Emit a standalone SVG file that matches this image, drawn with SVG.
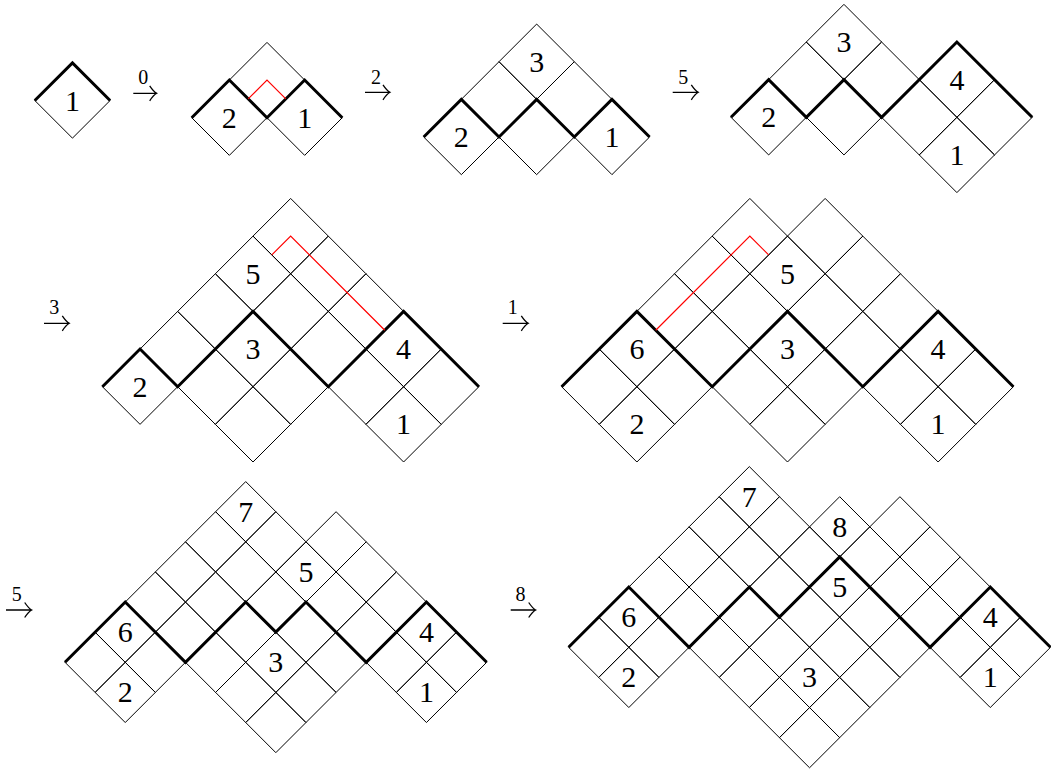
<svg xmlns="http://www.w3.org/2000/svg" width="1051" height="771" viewBox="0 0 1051 771">
<style>
.g{fill:none;stroke:#000;stroke-width:1;vector-effect:non-scaling-stroke}
.t{fill:none;stroke:#000;stroke-width:3;stroke-linejoin:miter;vector-effect:non-scaling-stroke}
.r{fill:none;stroke:#f00;stroke-width:1.2;vector-effect:non-scaling-stroke}
text{font-family:'Liberation Serif','DejaVu Serif','Times New Roman',serif;text-anchor:middle;fill:#000}
.n{font-size:30px}
.s{font-size:20px}
.a{fill:none;stroke:#000;stroke-width:1.3}
</style>
<rect width="1051" height="771" fill="#fff"/>
<g id="p1">
<g transform="matrix(37.65 0 0 -37.65 34.8 100.5)">
<path class="g" d="M0 0l1 1 1-1-1-1z"/>
<path class="t" d="M0 0L1 1L2 0"/>
</g>
<text class="n" x="72.45" y="110.5">1</text>
</g>
<g id="p2">
<g transform="matrix(37.65 0 0 -37.65 191.7 117.7)">
<path class="g" d="M0 0l1 1 1-1-1-1zM2 0l1 1 1-1-1-1zM1 1l1 1 1-1-1-1z"/>
<path class="t" d="M0 0L1 1L2 0L3 1L4 0"/>
<path class="r" d="M1.5 0.5L2 1L2.5 0.5"/>
</g>
<text class="n" x="229.35" y="127.7">2</text>
<text class="n" x="304.65" y="127.7">1</text>
</g>
<g id="p3">
<g transform="matrix(37.65 0 0 -37.65 423.7 137)">
<path class="g" d="M0 0l1 1 1-1-1-1zM2 0l1 1 1-1-1-1zM4 0l1 1 1-1-1-1zM1 1l1 1 1-1-1-1zM3 1l1 1 1-1-1-1zM2 2l1 1 1-1-1-1z"/>
<path class="t" d="M0 0L1 1L2 0L3 1L4 0L5 1L6 0"/>
</g>
<text class="n" x="461.35" y="147">2</text>
<text class="n" x="611.95" y="147">1</text>
<text class="n" x="536.65" y="71.7">3</text>
</g>
<g id="p4">
<g transform="matrix(37.65 0 0 -37.65 731 117.3)">
<path class="g" d="M0 0l1 1 1-1-1-1zM2 0l1 1 1-1-1-1zM5 1l1 1 1-1-1-1zM4 0l1 1 1-1-1-1zM6 0l1 1 1-1-1-1zM5 -1l1 1 1-1-1-1zM1 1l1 1 1-1-1-1zM3 1l1 1 1-1-1-1zM2 2l1 1 1-1-1-1z"/>
<path class="t" d="M0 0L1 1L2 0L3 1L4 0L6 2L8 0"/>
</g>
<text class="n" x="768.65" y="127.3">2</text>
<text class="n" x="843.95" y="52">3</text>
<text class="n" x="956.9" y="89.65">4</text>
<text class="n" x="956.9" y="164.95">1</text>
</g>
<g id="p5">
<g transform="matrix(37.65 0 0 -37.65 102.4 386.7)">
<path class="g" d="M0 0l1 1 1-1-1-1zM3 1l1 1 1-1-1-1zM2 0l1 1 1-1-1-1zM4 0l1 1 1-1-1-1zM3 -1l1 1 1-1-1-1zM7 1l1 1 1-1-1-1zM6 0l1 1 1-1-1-1zM8 0l1 1 1-1-1-1zM7 -1l1 1 1-1-1-1zM1 1l1 1 1-1-1-1zM5 1l1 1 1-1-1-1zM2 2l1 1 1-1-1-1zM4 2l1 1 1-1-1-1zM6 2l1 1 1-1-1-1zM3 3l1 1 1-1-1-1zM5 3l1 1 1-1-1-1zM4 4l1 1 1-1-1-1z"/>
<path class="t" d="M0 0L1 1L2 0L4 2L6 0L8 2L10 0"/>
<path class="r" d="M4.5 3.5L5 4L7.5 1.5"/>
</g>
<text class="n" x="140.05" y="396.7">2</text>
<text class="n" x="253" y="359.05">3</text>
<text class="n" x="403.6" y="359.05">4</text>
<text class="n" x="403.6" y="434.35">1</text>
<text class="n" x="253" y="283.75">5</text>
</g>
<g id="p6">
<g transform="matrix(37.65 0 0 -37.65 561.6 386.7)">
<path class="g" d="M1 1l1 1 1-1-1-1zM0 0l1 1 1-1-1-1zM2 0l1 1 1-1-1-1zM1 -1l1 1 1-1-1-1zM5 1l1 1 1-1-1-1zM4 0l1 1 1-1-1-1zM6 0l1 1 1-1-1-1zM5 -1l1 1 1-1-1-1zM9 1l1 1 1-1-1-1zM8 0l1 1 1-1-1-1zM10 0l1 1 1-1-1-1zM9 -1l1 1 1-1-1-1zM3 1l1 1 1-1-1-1zM7 1l1 1 1-1-1-1zM2 2l1 1 1-1-1-1zM4 2l1 1 1-1-1-1zM6 2l1 1 1-1-1-1zM8 2l1 1 1-1-1-1zM3 3l1 1 1-1-1-1zM5 3l1 1 1-1-1-1zM7 3l1 1 1-1-1-1zM4 4l1 1 1-1-1-1zM6 4l1 1 1-1-1-1z"/>
<path class="t" d="M0 0L2 2L4 0L6 2L8 0L10 2L12 0"/>
<path class="r" d="M2.5 1.5L5 4L5.5 3.5"/>
</g>
<text class="n" x="636.9" y="359.05">6</text>
<text class="n" x="636.9" y="434.35">2</text>
<text class="n" x="787.5" y="359.05">3</text>
<text class="n" x="938.1" y="359.05">4</text>
<text class="n" x="938.1" y="434.35">1</text>
<text class="n" x="787.5" y="283.75">5</text>
</g>
<g id="p7">
<g transform="matrix(30.12 0 0 -30.12 65 662.3)">
<path class="g" d="M1 1l1 1 1-1-1-1zM0 0l1 1 1-1-1-1zM2 0l1 1 1-1-1-1zM1 -1l1 1 1-1-1-1zM5 1l1 1 1-1-1-1zM7 1l1 1 1-1-1-1zM4 0l1 1 1-1-1-1zM6 0l1 1 1-1-1-1zM8 0l1 1 1-1-1-1zM5 -1l1 1 1-1-1-1zM7 -1l1 1 1-1-1-1zM6 -2l1 1 1-1-1-1zM11 1l1 1 1-1-1-1zM10 0l1 1 1-1-1-1zM12 0l1 1 1-1-1-1zM11 -1l1 1 1-1-1-1zM3 1l1 1 1-1-1-1zM9 1l1 1 1-1-1-1zM2 2l1 1 1-1-1-1zM4 2l1 1 1-1-1-1zM6 2l1 1 1-1-1-1zM8 2l1 1 1-1-1-1zM10 2l1 1 1-1-1-1zM3 3l1 1 1-1-1-1zM5 3l1 1 1-1-1-1zM7 3l1 1 1-1-1-1zM9 3l1 1 1-1-1-1zM4 4l1 1 1-1-1-1zM6 4l1 1 1-1-1-1zM8 4l1 1 1-1-1-1zM5 5l1 1 1-1-1-1z"/>
<path class="t" d="M0 0L2 2L4 0L6 2L7 1L8 2L10 0L12 2L14 0"/>
</g>
<text class="n" x="125.24" y="642.18">6</text>
<text class="n" x="125.24" y="702.42">2</text>
<text class="n" x="275.84" y="672.3">3</text>
<text class="n" x="426.44" y="642.18">4</text>
<text class="n" x="426.44" y="702.42">1</text>
<text class="n" x="305.96" y="581.94">5</text>
<text class="n" x="245.72" y="521.7">7</text>
</g>
<g id="p8">
<g transform="matrix(30.12 0 0 -30.12 568.6 647.3)">
<path class="g" d="M1 1l1 1 1-1-1-1zM0 0l1 1 1-1-1-1zM2 0l1 1 1-1-1-1zM1 -1l1 1 1-1-1-1zM8 2l1 1 1-1-1-1zM5 1l1 1 1-1-1-1zM7 1l1 1 1-1-1-1zM9 1l1 1 1-1-1-1zM4 0l1 1 1-1-1-1zM6 0l1 1 1-1-1-1zM8 0l1 1 1-1-1-1zM10 0l1 1 1-1-1-1zM5 -1l1 1 1-1-1-1zM7 -1l1 1 1-1-1-1zM9 -1l1 1 1-1-1-1zM6 -2l1 1 1-1-1-1zM8 -2l1 1 1-1-1-1zM7 -3l1 1 1-1-1-1zM13 1l1 1 1-1-1-1zM12 0l1 1 1-1-1-1zM14 0l1 1 1-1-1-1zM13 -1l1 1 1-1-1-1zM3 1l1 1 1-1-1-1zM11 1l1 1 1-1-1-1zM2 2l1 1 1-1-1-1zM4 2l1 1 1-1-1-1zM6 2l1 1 1-1-1-1zM10 2l1 1 1-1-1-1zM12 2l1 1 1-1-1-1zM3 3l1 1 1-1-1-1zM5 3l1 1 1-1-1-1zM7 3l1 1 1-1-1-1zM9 3l1 1 1-1-1-1zM11 3l1 1 1-1-1-1zM4 4l1 1 1-1-1-1zM6 4l1 1 1-1-1-1zM8 4l1 1 1-1-1-1zM10 4l1 1 1-1-1-1zM5 5l1 1 1-1-1-1z"/>
<path class="t" d="M0 0L2 2L4 0L6 2L7 1L9 3L12 0L14 2L16 0"/>
</g>
<text class="n" x="628.84" y="627.18">6</text>
<text class="n" x="628.84" y="687.42">2</text>
<text class="n" x="749.32" y="506.7">7</text>
<text class="n" x="839.68" y="536.82">8</text>
<text class="n" x="839.68" y="597.06">5</text>
<text class="n" x="809.56" y="687.42">3</text>
<text class="n" x="990.28" y="627.18">4</text>
<text class="n" x="990.28" y="687.42">1</text>
</g>
<g id="connectors">
<path class="a" d="M133.3 93.3H156.7M149.7 85.8Q153.5 91.5 156.7 93.3Q153.5 95.1 149.7 100.8"/>
<path class="a" d="M365 92.3H390M383 84.8Q386.8 90.5 390 92.3Q386.8 94.1 383 99.8"/>
<path class="a" d="M672.7 92.3H698.3M691.3 84.8Q695.1 90.5 698.3 92.3Q695.1 94.1 691.3 99.8"/>
<path class="a" d="M44 323.3H69.3M62.3 315.8Q66.1 321.5 69.3 323.3Q66.1 325.1 62.3 330.8"/>
<path class="a" d="M502.7 323.3H528.3M521.3 315.8Q525.1 321.5 528.3 323.3Q525.1 325.1 521.3 330.8"/>
<path class="a" d="M6 610H31.7M24.7 602.5Q28.5 608.2 31.7 610Q28.5 611.8 24.7 617.5"/>
<path class="a" d="M510.7 610H535.7M528.7 602.5Q532.5 608.2 535.7 610Q532.5 611.8 528.7 617.5"/>
<text class="s" x="143.3" y="84">0</text>
<text class="s" x="376" y="84">2</text>
<text class="s" x="683.3" y="84">5</text>
<text class="s" x="54.3" y="314.3">3</text>
<text class="s" x="512.7" y="314.3">1</text>
<text class="s" x="16.7" y="600.7">5</text>
<text class="s" x="520.4" y="600.7">8</text>
</g>
</svg>
